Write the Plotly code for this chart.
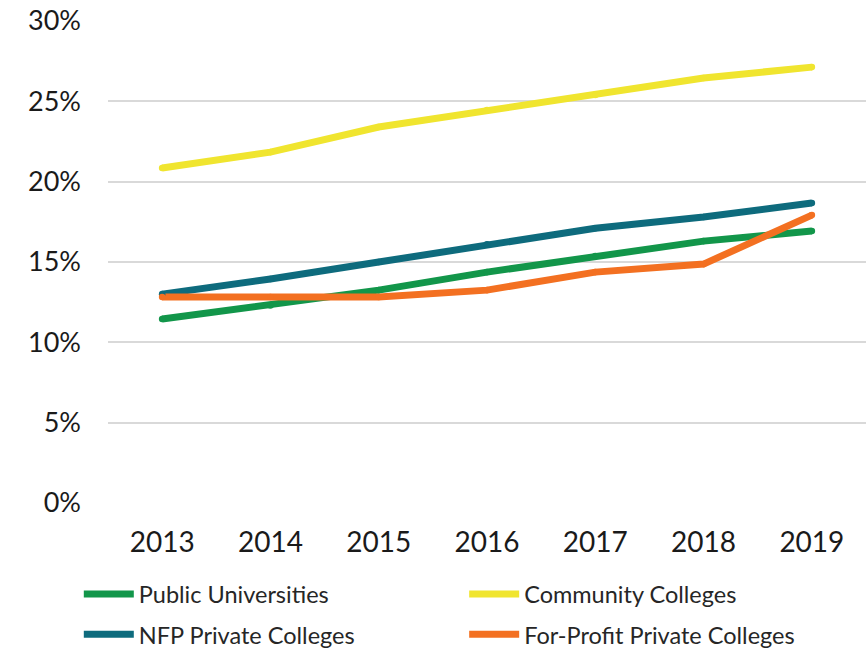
import plotly.graph_objects as go

years = ["2013", "2014", "2015", "2016", "2017", "2018", "2019"]
public_univ = [11.45, 12.3, 13.25, 14.37, 15.37, 16.3, 16.93]
community = [20.85, 21.84, 23.4, 24.45, 25.4, 26.45, 27.13]
nfp_private = [13.0, 13.94, 15.0, 16.1, 17.1, 17.8, 18.67]
for_profit = [12.82, 12.82, 12.82, 13.25, 14.37, 14.87, 17.92]

series = [
    ("Public Universities", public_univ, "#12964A", "legend"),
    ("Community Colleges", community, "#F0E52F", "legend2"),
    ("NFP Private Colleges", nfp_private, "#0E6B7D", "legend3"),
    ("For-Profit Private Colleges", for_profit, "#F37021", "legend4"),
]

FONT = "Lato"
fig = go.Figure()
for name, vals, col, lg in series:
    fig.add_trace(go.Scatter(x=years, y=vals, name=name, mode="lines",
                             line=dict(color=col, width=7), legend=lg))
# round caps / joins
for name, vals, col, lg in series:
    fig.add_trace(go.Scatter(x=years, y=vals, mode="markers", showlegend=False,
                             marker=dict(color=col, size=6.6, line=dict(width=0)),
                             hoverinfo="skip"))

leg_common = dict(orientation="h", xref="container", yref="container",
                  xanchor="left", yanchor="top",
                  font=dict(size=23.5, family=FONT, color="#262626"),
                  itemwidth=50, bgcolor="rgba(0,0,0,0)")

c1, c2 = 0.091, 0.536
r1, r2 = 0.121, 0.059
fig.update_layout(
    width=866, height=651,
    margin=dict(l=108, r=0, t=21, b=148),
    plot_bgcolor="white", paper_bgcolor="white",
    font=dict(family=FONT, color="#262626"),
    showlegend=True,
    legend=dict(x=c1, y=r1, **leg_common),
    legend2=dict(x=c2, y=r1, **leg_common),
    legend3=dict(x=c1, y=r2, **leg_common),
    legend4=dict(x=c2, y=r2, **leg_common),
    xaxis=dict(type="category", range=[-0.5, 6.5], showgrid=False, showline=False,
               ticks="", tickfont=dict(size=28, family=FONT, color="#1a1a1a"),
               ticklabelstandoff=20),
    yaxis=dict(range=[0, 30], tickvals=[0, 5, 10, 15, 20, 25, 30],
               ticktext=["0%", "5%", "10%", "15%", "20%", "25%", "30%"],
               showgrid=True, gridcolor="#D9D9D9", gridwidth=2, zeroline=False,
               showline=False, ticks="", tickfont=dict(size=27, family=FONT, color="#1a1a1a"),
               ticklabelstandoff=26),
)
fig.write_html("out.html")
